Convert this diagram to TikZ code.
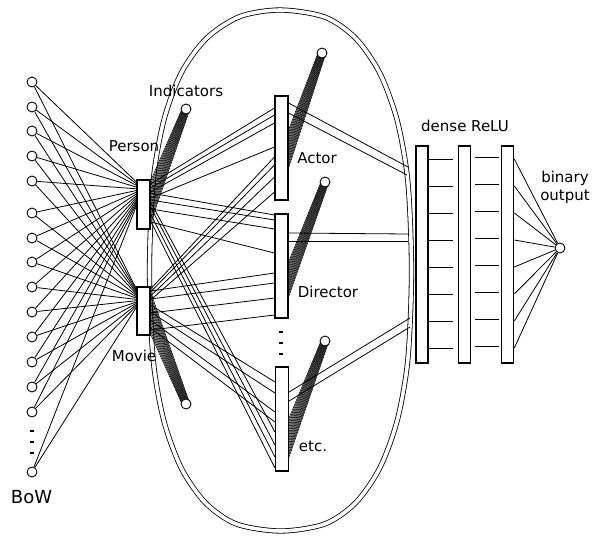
\documentclass[tikz,border=0pt]{standalone}
\usepackage{fontspec}
\setmainfont{DejaVu Sans}
\pgfdeclarelayer{ovallayer}
\pgfdeclarelayer{linelayer}
\pgfsetlayers{ovallayer,linelayer,main}
\begin{document}
\begin{tikzpicture}[x=1pt,y=-1pt,
  conn/.style={line width=0.8pt},
  fanline/.style={line width=0.55pt},
  neuron/.style={circle,draw,fill=white,inner sep=0pt,minimum size=10pt,line width=0.9pt},
  layerbox/.style={rectangle,draw,fill=white,inner sep=0pt,minimum width=13pt,line width=1.1pt},
  densebox/.style={rectangle,draw,fill=white,inner sep=0pt,minimum width=12pt,minimum height=217pt,line width=1.6pt},
  lbl/.style={font=\fontsize{15}{18}\selectfont,inner sep=0pt},
  dotmark/.style={fill=black}
]
\useasboundingbox (0,0) rectangle (596,539);
% big double oval
\begin{pgfonlayer}{ovallayer}
\draw[line width=0.8pt,double,double distance=3.6pt,line join=round]
  plot[smooth cycle] coordinates {
  (411.5,270.5) (407.9,358.8) (397.3,420.1) (379.8,467.9) (355.7,502.7) (324.9,523.9)
  (280.5,531) (236.1,523.9) (205.3,502.7) (181.2,467.9) (163.7,420.1) (153.1,358.8)
  (149.5,270.5) (153.1,182.2) (163.7,120.9) (181.2,73.1) (206.5,38.3) (240,16.5)
  (280.5,10) (324.9,17.1) (355.7,38.3) (379.8,73.1) (397.3,120.9) (407.9,182.2)};
\end{pgfonlayer}

% BoW inputs
\foreach \n/\y in {1/82,2/107,3/131,4/156,5/181,6/213,7/238,8/262,9/287,10/312,11/337,12/362,13/387,14/412,15/472}
  \node[neuron] (b\n) at (32,\y) {};
\foreach \y in {431,442,453}
  \fill[dotmark] (30,\y-1.2) rectangle (34,\y+1.2);

% entity boxes
\node[layerbox,minimum height=49pt] (P) at (143.5,204.5) {};
\node[layerbox,minimum height=48pt] (M) at (143.5,311) {};
\node[neuron] (iP) at (186,109) {};
\node[neuron] (iM) at (186,404) {};

% role boxes
\node[layerbox,minimum height=104pt] (A) at (281.5,148) {};
\node[layerbox,minimum height=104pt] (D) at (281.5,266) {};
\node[layerbox,minimum height=104pt] (E) at (282,419) {};
\node[neuron] (iA) at (322,53) {};
\node[neuron] (iD) at (325,182) {};
\node[neuron] (iE) at (325,341) {};
\foreach \y in {332,343,354}
  \fill[dotmark] (279,\y-1.2) rectangle (283,\y+1.2);

% dense layers and output
\node[densebox] (L1) at (422,254.5) {};
\node[densebox] (L2) at (464.5,254.5) {};
\node[densebox] (L3) at (507.5,254.5) {};
\node[neuron] (out) at (560,248) {};

% labels
\node[lbl] (tPerson) at (134,146) {Person};
\node[lbl] (tMovie) at (134,356) {Movie};
\node[lbl] (tInd) at (186,91) {Indicators};
\node[lbl] (tActor) at (317,158) {Actor};
\node[lbl] (tDir) at (328,292) {Director};
\node[lbl] (tEtc) at (313,446) {etc.};
\node[lbl] (tDense) at (465,126) {dense ReLU};
\node[lbl] (tBin) at (565,178) {binary};
\node[lbl] (tOut) at (565,197) {output};
\node[lbl,font=\fontsize{18}{21}\selectfont] (tBoW) at (31.5,497) {BoW};

\begin{pgfonlayer}{linelayer}
% BoW -> Person / Movie
\foreach \n in {1,...,15} {
  \pgfmathsetmacro\yp{182+(\n-1)*1.7}
  \pgfmathsetmacro\ym{289+(\n-1)*1.3}
  \draw[conn] (b\n) -- (P.west |- 0,\yp);
  \draw[conn] (b\n) -- (M.west |- 0,\ym);
}

% Person / Movie -> roles
\foreach \s/\t/\e in {184/A/108,188/A/115,192/A/123,198/A/147,
                      193/D/215,200/D/220,209/D/229,222/D/253,
                      202/E/432,207/E/445,214/E/457,221/E/468}
  \draw[conn] (P.east |- 0,\s) -- (\t.west |- 0,\e);
\foreach \s/\t/\e in {289/A/157,292/A/165,296/A/177,300/A/192,
                      291/D/273,299/D/283,313/D/298,330/D/315,
                      305/E/382,312/E/393,320/E/412,328/E/422}
  \draw[conn] (M.east |- 0,\s) -- (\t.west |- 0,\e);

% indicator fans: from across the circle to a range on the box edge
\foreach \c/\b/\ya/\yb/\sg in {iP/P/181/223/1,iM/M/292/334/-1,iA/A/130/168/1,iD/D/262/297/1,iE/E/418/457/1} {
  \foreach \k in {0,...,14} {
    \pgfmathsetmacro\yy{\ya+(\yb-\ya)*\k/14}
    \pgfmathsetmacro\xs{\sg*(-4+8*\k/14)}
    \draw[fanline] ([xshift=\xs pt]\c.center) -- (\b.east |- 0,\yy);
  }
}

% roles -> first dense layer
\coordinate (a1) at (408,167);
\coordinate (a2) at (407,175);
\coordinate (d1) at (408,234);
\coordinate (d2) at (408,241);
\coordinate (e1) at (410,318);
\coordinate (e2) at (410,327);
\draw[conn] (A.east |- 0,103) -- (a1);
\draw[conn] (A.east |- 0,113) -- (a2);
\draw[conn] (D.east |- 0,233) -- (d1);
\draw[conn] (D.east |- 0,241) -- (d2);
\draw[conn] (E.east |- 0,392) -- (e1);
\draw[conn] (E.east |- 0,401) -- (e2);

% dense connections
\foreach \k in {0,...,7} {
  \pgfmathsetmacro\ya{159+27*\k}
  \pgfmathsetmacro\yb{157.5+27*\k}
  \draw[conn,shorten >=5pt] (L1.east |- 0,\ya) -- (L2.west |- 0,\ya);
  \draw[conn,shorten <=4pt,shorten >=2pt] (L2.east |- 0,\yb) -- (L3.west |- 0,\yb);
  \draw[conn] (L3.east |- 0,\ya) -- (out);
}
\end{pgfonlayer}
\end{tikzpicture}
\end{document}
